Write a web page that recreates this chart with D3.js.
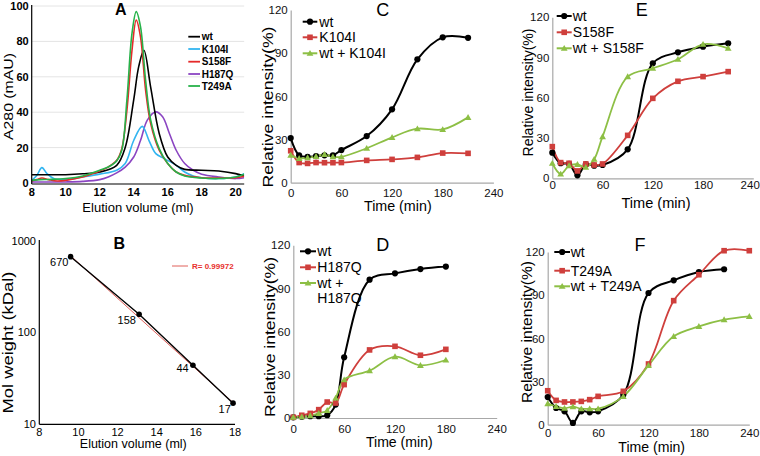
<!DOCTYPE html>
<html><head><meta charset="utf-8">
<script src="https://cdn.jsdelivr.net/npm/d3@7"></script>
<style>body{margin:0;background:#fff}svg{display:block;font-family:"Liberation Sans",Arial,sans-serif}</style>
</head><body><svg id="c" width="760" height="456"></svg>
<script>
// ---------- Panel A data (elution volume ml, A280 mAU) ----------
const aNames = ["wt","K104I","S158F","H187Q","T249A"];
const aColors = ["#000000","#33b5f0","#e52a2a","#8b45c2","#27b24a"];
const aWt = [[8,4.7],[9,4.7],[10,4.7],[11,5.2],[12,6.2],[13,10],[13.5,20],[14,47],[14.3,66],[14.6,75],[15,54],[15.5,28],[16,14.7],[16.5,10],[17,7.7],[18,7.2],[19,6.8],[20,5.3],[20.5,3.8]];
const aK104I = [[8,1.5],[8.3,4.3],[8.6,8.7],[8.9,5.3],[9.3,2.5],[10,2],[11,3.4],[12,5],[13,7.2],[13.5,11],[14,24],[14.5,32],[14.9,24],[15.3,16.6],[15.8,13.8],[16.5,10],[17,6.2],[17.5,4],[18,3],[19,2.5],[20,3.4],[20.5,5.3]];
const aS158F = [[8,1.1],[8.3,1.9],[8.6,2.8],[9,1.9],[9.5,1.1],[10,1.5],[11,3.4],[12,6.8],[12.5,9],[13,12.8],[13.3,19.4],[13.6,41],[13.9,75],[14.15,92],[14.4,82.6],[14.7,52.5],[15,33.6],[15.5,18.5],[16,11],[16.5,6.2],[17,4.3],[18,3],[19,2.8],[20,3],[20.5,3.8]];
const aH187Q = [[8,0.6],[10,0.6],[11,0.9],[12,1.9],[12.5,3.4],[13,5.7],[13.5,9],[14,14.7],[14.4,24],[14.8,35.5],[15.3,40.2],[15.7,37.4],[16.1,28],[16.5,18.5],[17,11],[17.5,7.2],[18,5],[19,3.4],[20,2.5],[20.5,3]];
const aT249A = [[8,1.5],[8.5,1.9],[9,2],[10,2.5],[11,4],[12,7.2],[12.5,9],[13,12.5],[13.3,18.5],[13.6,46.8],[13.9,84.5],[14.15,96.8],[14.4,88.3],[14.7,58],[15,35.5],[15.5,19.4],[16,11],[16.5,6.2],[17,4],[18,2.8],[19,2.5],[20,3.4],[20.5,5]];
const aXTicks = [8,10,12,14,16,18,20];
const aYTicks = [0,20,40,60,80,100];

// ---------- Panel B data ----------
const bVolume = [9.6,13.1,15.85,17.9];
const bMW = [670,158,44,17];
const bLabels = ["670","158","44","17"];
const bXTicks = [8,10,12,14,16,18];
const bYTicks = [10,100,1000];
const bR = "R= 0.99972";

// ---------- Panels C-F data (time min, relative intensity %) ----------
const timeTicks = [0,60,120,180,240];
const intTicks = [0,30,60,90,120];
const timeC = [0,10,20,30,40,50,60,90,120,150,180,210];
const cWt = [31,19,18,18.5,19,19,22.7,32.4,51,85.7,101,100.7];
const cMut = [22.2,14,13.4,14,13.9,13.9,14,15.5,16.2,17.6,20.6,20.4];
const cMix = [19.2,16.9,17.4,18.3,19.7,18,18,23.9,31.5,37.5,37,45.4];
const timeD = [0,10,20,30,40,50,60,90,120,150,180];
const dWt = [0.5,0.9,1.2,1.2,1.9,9.3,42.2,96.1,100.5,103.5,105.2];
const dMut = [0.5,1.9,3.2,5.8,11.1,10.4,23.2,47.3,49.8,43.6,47.7];
const dMix = [0.5,0.9,1.6,3.2,5.3,13.9,26.6,32.9,42.6,36.6,40.3];
const timeE = [0,10,20,30,40,50,60,90,120,150,180,210];
const eWt = [19.1,11.2,10.7,2.2,10.4,9.4,9.9,21.6,85.7,93.9,98.1,100.6];
const eMut = [23.6,11.7,11.2,5.5,10.7,9.9,10.7,32,59.6,72.3,75.8,79.5];
const eMix = [11.2,3.2,9.4,10.4,8.2,14.2,31.1,75.8,82,88.7,99.9,96.9];
const timeFwt = [0,10,20,30,40,50,60,90,120,150,180,210];
const timeF = [0,10,20,30,40,50,60,90,120,150,180,210,240];
const fWt = [19.2,11.6,9.3,1.2,9.3,8.6,9.3,20.8,91.5,100.3,106.1,108];
const fMut = [23.6,16.9,15.8,15.8,16.2,17.4,19.7,23.2,42.2,86.2,104.2,120.9,120.9];
const fMix = [14.6,12.7,11.4,12.5,11.1,11.1,11.1,19.7,41.2,61.4,68.3,73,75.3];

const RED = "#cf3f3c", GREEN = "#8dbf45", BLACK = "#000";
const svg = d3.select("#c");
const smooth = d3.line().curve(d3.curveCatmullRom.alpha(0.5));

// ================= Panel A =================
(function(){
  const x = d3.scaleLinear([8,20.5],[31.7,244.2]);
  const y = d3.scaleLinear([0,100],[183,6]);
  const g = svg.append("g");
  g.selectAll("line.grid").data(aYTicks.slice(1)).join("line")
    .attr("x1",x(8)).attr("x2",x(20.5)).attr("y1",d=>y(d)).attr("y2",d=>y(d))
    .attr("stroke","#e4e4e4").attr("stroke-width",1);
  svg.append("clipPath").attr("id","clipA").append("rect")
    .attr("x",x(8)).attr("y",0).attr("width",x(20.5)-x(8)).attr("height",185);
  const series = [aWt,aK104I,aS158F,aH187Q,aT249A];
  const order = [3,1,0,2,4];
  order.forEach(i=>{
    g.append("path").attr("clip-path","url(#clipA)")
      .attr("d", smooth(series[i].map(p=>[x(p[0]),y(p[1])])))
      .attr("fill","none").attr("stroke",aColors[i]).attr("stroke-width",1.6);
  });
  g.append("line").attr("x1",x(8)).attr("x2",x(20.5)).attr("y1",184).attr("y2",184).attr("stroke","#000").attr("stroke-width",1.2);
  g.append("line").attr("x1",x(8)).attr("x2",x(8)).attr("y1",5).attr("y2",184).attr("stroke","#000").attr("stroke-width",1.2);
  g.selectAll("text.yt").data(aYTicks).join("text")
    .attr("x",x(8)-3).attr("y",d=>y(d)).attr("dy","0.36em").attr("text-anchor","end")
    .attr("font-size",11).attr("font-weight","bold").text(d=>d);
  g.selectAll("text.xt").data(aXTicks).join("text")
    .attr("x",d=>x(d)).attr("y",195.5).attr("text-anchor","middle")
    .attr("font-size",11).attr("font-weight","bold").text(d=>d);
  g.append("text").attr("x",138).attr("y",211.5).attr("text-anchor","middle").attr("font-size",13)
    .text("Elution volume (ml)");
  g.append("text").attr("transform","translate(8,96.5) rotate(-90)").attr("dy","0.35em")
    .attr("text-anchor","middle").attr("font-size",13).attr("textLength",87).attr("lengthAdjust","spacingAndGlyphs")
    .text("A280 (mAU)");
  g.append("text").attr("x",120.7).attr("y",14.5).attr("text-anchor","middle").attr("font-size",16).attr("font-weight","bold").text("A");
  const ly = [36.7,49,61.7,74,86];
  aNames.forEach((n,i)=>{
    g.append("line").attr("x1",188.3).attr("x2",200).attr("y1",ly[i]).attr("y2",ly[i]).attr("stroke",aColors[i]).attr("stroke-width",1.8);
    g.append("text").attr("x",201.7).attr("y",ly[i]).attr("dy","0.36em").attr("font-size",10).attr("font-weight","bold").text(n);
  });
})();

// ================= Panel B =================
(function(){
  const x = d3.scaleLinear([8,18],[39.3,235]);
  const y = d3.scaleLog([10,1000],[424.3,240.7]);
  const g = svg.append("g");
  const lx = bVolume, ly = bMW.map(Math.log10);
  const mx = d3.mean(lx), my = d3.mean(ly);
  const b = d3.sum(lx.map((v,i)=>(v-mx)*(ly[i]-my)))/d3.sum(lx.map(v=>(v-mx)**2));
  const a = my - b*mx;
  const v0 = bVolume[0], v1 = bVolume[bVolume.length-1];
  g.append("line").attr("x1",x(v0)).attr("y1",y(10**(a+b*v0))+0.8).attr("x2",x(v1)).attr("y2",y(10**(a+b*v1))+0.8)
    .attr("stroke","#e0605a").attr("stroke-width",1);
  g.append("path").attr("d", d3.line()(bVolume.map((v,i)=>[x(v),y(bMW[i])])))
    .attr("fill","none").attr("stroke","#000").attr("stroke-width",1.4);
  g.selectAll("circle").data(bVolume).join("circle").attr("cx",d=>x(d)).attr("cy",(d,i)=>y(bMW[i])).attr("r",2.8).attr("fill","#000");
  const off = [[-11.4,5],[-12.4,6],[-10.3,3],[-8.3,6]];
  bLabels.forEach((t,i)=>{
    g.append("text").attr("x",x(bVolume[i])+off[i][0]).attr("y",y(bMW[i])+off[i][1]).attr("dy","0.35em")
      .attr("text-anchor","middle").attr("font-size",11).text(t);
  });
  g.append("line").attr("x1",39.3).attr("x2",235).attr("y1",424.3).attr("y2",424.3).attr("stroke","#000").attr("stroke-width",1.2);
  g.append("line").attr("x1",39.3).attr("x2",39.3).attr("y1",240).attr("y2",424.3).attr("stroke","#000").attr("stroke-width",1.2);
  g.selectAll("text.yt").data(bYTicks).join("text")
    .attr("x",36).attr("y",d=>y(d)).attr("dy","0.36em").attr("text-anchor","end").attr("font-size",11).text(d=>d);
  g.selectAll("text.xt").data(bXTicks).join("text")
    .attr("x",d=>x(d)).attr("y",436).attr("text-anchor","middle").attr("font-size",11).text(d=>d);
  g.append("text").attr("x",133.3).attr("y",448).attr("text-anchor","middle").attr("font-size",12.5).text("Elution volume (ml)");
  g.append("text").attr("transform","translate(8,342.5) rotate(-90)").attr("dy","0.35em")
    .attr("text-anchor","middle").attr("font-size",15).attr("textLength",142).attr("lengthAdjust","spacingAndGlyphs")
    .text("Mol weight (kDal)");
  g.append("text").attr("x",119.3).attr("y",249).attr("text-anchor","middle").attr("font-size",16).attr("font-weight","bold").text("B");
  g.append("line").attr("x1",172).attr("x2",188).attr("y1",266).attr("y2",266).attr("stroke","#e0605a").attr("stroke-width",1);
  g.append("text").attr("x",192).attr("y",266).attr("dy","0.36em").attr("font-size",8).attr("font-weight","bold").attr("fill","#e8302c").text(bR);
})();

// ================= Panels C-F =================
function timePanel(o){
  const x = d3.scaleLinear([0,240],[o.x0,o.x1]);
  const y = d3.scaleLinear([0,120],[o.y0,o.y1]);
  const g = svg.append("g");
  const ax = g.append("g").attr("transform",`translate(0,${o.y0})`)
    .call(d3.axisBottom(x).tickValues(timeTicks).tickSize(0).tickSizeOuter(0).tickPadding(o.xpad));
  const ay = g.append("g").attr("transform",`translate(${o.x0},0)`)
    .call(d3.axisLeft(y).tickValues(intTicks).tickSize(0).tickSizeOuter(0).tickPadding(3));
  [ax,ay].forEach(a=>{
    a.select(".domain").attr("stroke","#a8a8a8").attr("stroke-width",1.2);
    a.selectAll("text").attr("font-size",11.5).attr("fill","#111").attr("font-family","Liberation Sans, Arial, sans-serif");
  });
  if(o.lastEnd){
    ax.selectAll(".tick").filter(d=>d===240).select("text").attr("text-anchor","end").attr("dx",o.lastEnd);
  }
  o.series.forEach(s=>{
    const pts = s.t.map((t,i)=>[x(t),y(s.v[i])]);
    g.append("path").attr("d",smooth(pts)).attr("fill","none").attr("stroke",s.c).attr("stroke-width",s.c===BLACK?2:1.8);
  });
  const mark = (sel,s,px,py)=>{
    if(s.m==="circle") sel.append("circle").attr("cx",px).attr("cy",py).attr("r",3.1).attr("fill",s.c);
    else if(s.m==="square") sel.append("rect").attr("x",px-2.8).attr("y",py-2.8).attr("width",5.6).attr("height",5.6).attr("fill",s.c);
    else sel.append("path").attr("transform",`translate(${px},${py+0.6})`).attr("d",d3.symbol(d3.symbolTriangle,20)()).attr("fill",s.c);
  };
  o.series.forEach(s=>{ s.t.forEach((t,i)=>mark(g,s,x(t),y(s.v[i]))); });
  o.series.forEach((s,i)=>{
    const yy = o.leg.y[i];
    g.append("line").attr("x1",o.leg.x0).attr("x2",o.leg.x1).attr("y1",yy).attr("y2",yy).attr("stroke",s.c).attr("stroke-width",2);
    mark(g,s,(o.leg.x0+o.leg.x1)/2,yy);
    s.name.split("\n").forEach((ln,k)=>{
      g.append("text").attr("x",o.leg.tx).attr("y",yy+k*o.leg.lh).attr("dy","0.36em").attr("font-size",14).text(ln);
    });
  });
  g.append("text").attr("x",o.xt[0]).attr("y",o.xt[1]).attr("text-anchor","middle").attr("font-size",14.5)
    .attr("textLength",o.xt[2]).attr("lengthAdjust","spacingAndGlyphs").text("Time (min)");
  g.append("text").attr("transform",`translate(${o.yt[0]},${o.yt[1]}) rotate(-90)`).attr("dy","0.35em")
    .attr("text-anchor","middle").attr("font-size",14.5).attr("textLength",o.yt[2]).attr("lengthAdjust","spacingAndGlyphs")
    .text("Relative intensity(%)");
  g.append("text").attr("x",o.letter[0]).attr("y",o.letter[1]).attr("text-anchor","middle").attr("font-size",18).text(o.letter[2]);
}

timePanel({x0:290.7,x1:493.4,y0:182.7,y1:10,xpad:6.5,
  series:[{name:"wt",t:timeC,v:cWt,c:BLACK,m:"circle"},{name:"K104I",t:timeC,v:cMut,c:RED,m:"square"},{name:"wt + K104I",t:timeC,v:cMix,c:GREEN,m:"tri"}],
  leg:{x0:302.7,x1:317.3,tx:319.3,y:[21.7,37.3,53.3],lh:15},
  xt:[397.8,211,67.7], yt:[268.3,107,161], letter:[382.7,15.5,"C"]});
timePanel({x0:293.3,x1:496.7,y0:418,y1:245.3,xpad:6.5,
  series:[{name:"wt",t:timeD,v:dWt,c:BLACK,m:"circle"},{name:"H187Q",t:timeD,v:dMut,c:RED,m:"square"},{name:"wt +\nH187Q",t:timeD,v:dMix,c:GREEN,m:"tri"}],
  leg:{x0:300,x1:316,tx:317.3,y:[251.3,267.3,283],lh:15},
  xt:[399.3,447,66.7], yt:[270,337,160], letter:[382.7,250.5,"D"]});
timePanel({x0:552.3,x1:753.3,y0:178.3,y1:17.3,xpad:3,lastEnd:6,
  series:[{name:"wt",t:timeE,v:eWt,c:BLACK,m:"circle"},{name:"S158F",t:timeE,v:eMut,c:RED,m:"square"},{name:"wt + S158F",t:timeE,v:eMix,c:GREEN,m:"tri"}],
  leg:{x0:556.7,x1:571.7,tx:572.7,y:[16,32.3,48.3],lh:15},
  xt:[656,208,69], yt:[528.3,92.5,128], letter:[641.7,15.5,"E"]});
timePanel({x0:547.7,x1:749.3,y0:424.7,y1:252,xpad:4.5,
  series:[{name:"wt",t:timeFwt,v:fWt,c:BLACK,m:"circle"},{name:"T249A",t:timeF,v:fMut,c:RED,m:"square"},{name:"wt + T249A",t:timeF,v:fMix,c:GREEN,m:"tri"}],
  leg:{x0:554.3,x1:570,tx:570.7,y:[252,270.7,286.3],lh:15},
  xt:[651.7,452,66.7], yt:[526.7,332,142], letter:[640,250.5,"F"]});
</script></body></html>
